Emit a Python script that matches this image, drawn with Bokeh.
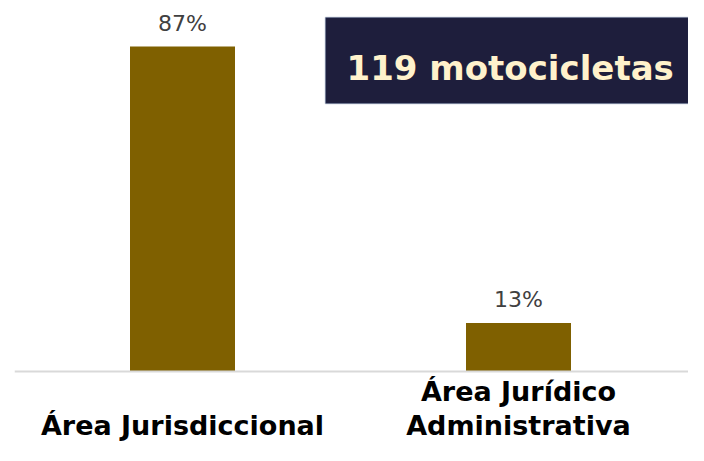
from bokeh.plotting import figure
from bokeh.models import Range1d, ColumnDataSource, Span, BoxAnnotation, Label
from bokeh.core.properties import value
from bokeh.embed import file_html
from bokeh.resources import INLINE

categories = ["Área Jurisdiccional", "Área Jurídico\nAdministrativa"]
shares = [87, 13]
share_labels = ["87%", "13%"]
headline = "119 motocicletas"

BAR = "#7F6000"
NAVY = "#1E1E3C"
CREAM = "#FFF2CC"
FONT = "DejaVu Sans"

W, H = 688, 445
LEFT = 14
UNIT_X = 336.0
X0 = -(182 - LEFT) / UNIT_X
X1 = X0 + (W - LEFT) / UNIT_X
UNIT_Y = 325.0 / 87.0   # px per percent
Y0 = -(H - 371) / UNIT_Y
Y1 = Y0 + H / UNIT_Y

def sx(px):  # px from left -> data x
    return X0 + (px - LEFT) / UNIT_X

def sy(py):  # px from top -> data y
    return Y1 - py / UNIT_Y

xs = list(range(len(categories)))
src = ColumnDataSource(dict(x=xs, top=shares, lab=share_labels, cat=categories,
                            zero=[0] * len(xs), cat_off=[54, 37]))

p = figure(width=W, height=H, output_backend="svg", toolbar_location=None,
           x_range=Range1d(X0, X1), y_range=Range1d(Y0, Y1),
           min_border_left=LEFT, min_border_right=0, min_border_top=0, min_border_bottom=0)
p.axis.visible = False
p.grid.visible = False
p.outline_line_color = None
p.background_fill_color = "white"

p.vbar(x="x", top="top", bottom=0, width=105 / UNIT_X, source=src,
       fill_color=BAR, line_color=None)

p.add_layout(Span(location=0, dimension="width", line_color="#D9D9D9", line_width=2))

p.text(x="x", y="top", text="lab", source=src, text_align="center",
       text_baseline="alphabetic", y_offset=-23, text_font=value(FONT),
       text_font_size="22px", text_color="#404040")

p.text(x="x", y="zero", text="cat", source=src, text_align="center",
       text_baseline="middle", y_offset="cat_off", text_font=value(FONT),
       text_font_size="27px", text_color="#000000", text_font_style="bold",
       text_line_height=1.1)

p.add_layout(BoxAnnotation(left=sx(325), right=X1, top=sy(17), bottom=sy(103),
                           fill_color=NAVY, fill_alpha=1.0,
                           line_color="#2F4A7A", line_width=1.5))
p.add_layout(Label(x=sx(346), y=sy(67), text=headline, text_font=FONT,
                   text_font_size="34px", text_color=CREAM, text_baseline="alphabetic",
                   text_align="left", text_font_style="bold"))

open("out.html", "w").write(file_html(p, INLINE))
